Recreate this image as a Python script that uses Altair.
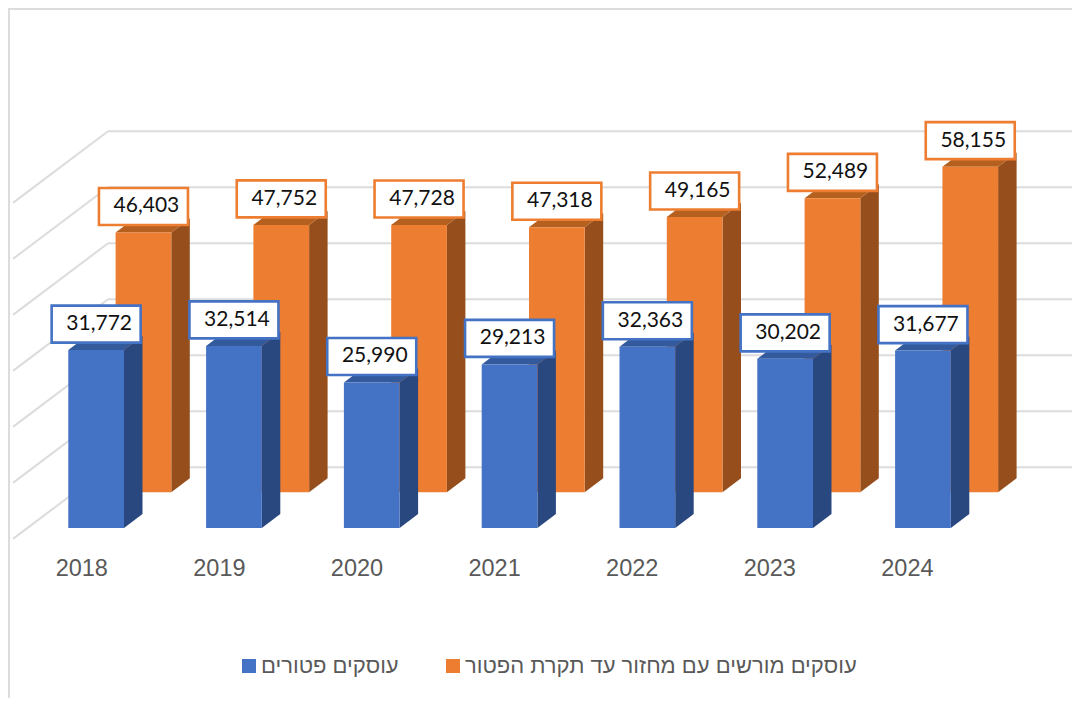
import altair as alt
import pandas as pd

years = ["2018", "2019", "2020", "2021", "2022", "2023", "2024"]
exempt = [31772, 32514, 25990, 29213, 32363, 30202, 31677]
licensed = [46403, 47752, 47728, 47318, 49165, 52489, 58155]
name_exempt = "עוסקים פטורים"
name_licensed = "עוסקים מורשים עם מחזור עד תקרת הפטור"
grid_values = [0, 10000, 20000, 30000, 40000, 50000, 60000]

BLUE, BLUE_SIDE, BLUE_TOP = "#4472C4", "#2A4880", "#335A9D"
ORANGE, ORANGE_SIDE, ORANGE_TOP = "#ED7D31", "#964F1C", "#B5601F"
GRID = "#DCDCDC"

# layout: x axis is in reference pixels, y axis in value units
U = 1 / 0.0056            # value units per pixel
X0, PITCH, BAR_W = 68.3, 137.8, 55.7
DX, DZ = 18.5, 14 * U     # bar depth
REAR_DX, REAR_DZ = 47.3, 35.7 * U
WALL_LEFT, WALL_RIGHT = 108, 1072
WALL_Z = 60.7 * U
SIDE_DX, SIDE_DZ = 95, 71.6 * U
TOP_V, BOTTOM_V = 520 * U, -170 * U

xs = alt.Scale(domain=[8, 1072], nice=False, zero=False)
ys = alt.Scale(domain=[BOTTOM_V, TOP_V], nice=False, zero=False)
X = lambda f="x": alt.X(f"{f}:Q", scale=xs, axis=None)
Y = lambda f="y": alt.Y(f"{f}:Q", scale=ys, axis=None)
X2 = alt.X2("x2:Q")
Y2 = alt.Y2("y2:Q")


def bars(values, name, off_x, off_z, front, side, top):
    rects, sides, tops = [], [], []
    for i, v in enumerate(values):
        l = X0 + i * PITCH + off_x
        r = l + BAR_W
        base = off_z
        t = v + off_z
        rects.append(dict(x=l, x2=r, y=t, y2=base, s=name))
        sides += [dict(b=i, x=r, y=t, y2=base), dict(b=i, x=r + DX, y=t + DZ, y2=base + DZ)]
        tops += [
            dict(b=i, x=l, y=t, y2=t),
            dict(b=i, x=l + DX, y=t + DZ, y2=t),
            dict(b=i, x=r, y=t + DZ, y2=t),
            dict(b=i, x=r + DX, y=t + DZ, y2=t + DZ),
        ]
    legend = alt.Legend(
        title=None, orient="none", direction="horizontal", legendX=230, legendY=647,
        symbolType="square", symbolSize=196, symbolStrokeWidth=0, labelFont="Liberation Sans",
        labelFontSize=22, labelColor="#595959", labelLimit=0, labelOffset=1, columnPadding=43,
    )
    color = alt.Color("s:N", scale=alt.Scale(domain=[name_exempt, name_licensed], range=[BLUE, ORANGE]), legend=legend)
    return [
        alt.Chart(pd.DataFrame(sides)).mark_area(color=side).encode(X(), Y(), Y2, detail="b:N"),
        alt.Chart(pd.DataFrame(tops)).mark_area(color=top).encode(X(), Y(), Y2, detail="b:N"),
        alt.Chart(pd.DataFrame(rects)).mark_rect().encode(X(), X2, Y(), Y2, color=color),
    ]


def labels(values, off_x, off_z, stroke):
    rows = []
    for i, v in enumerate(values):
        c = X0 + i * PITCH + off_x + BAR_W / 2
        m = v + off_z + 26 * U
        rows.append(dict(x=c - 44.5, x2=c + 44.5, y=m + 18.5 * U, y2=m - 18.5 * U, cx=c, cy=m, t=f"{v:,}"))
    df = pd.DataFrame(rows)
    return [
        alt.Chart(df).mark_rect(fill="white", stroke=stroke, strokeWidth=2.6).encode(X(), X2, Y(), Y2),
        alt.Chart(df).mark_text(font="Lato", fontSize=21, color="#111111", dx=3, baseline="middle", align="center")
        .encode(X("cx"), Y("cy"), text="t:N"),
    ]


grid_back = pd.DataFrame([dict(x=WALL_LEFT, x2=WALL_RIGHT, y=v + WALL_Z) for v in grid_values])
grid_side = pd.DataFrame([
    dict(x=WALL_LEFT, x2=WALL_LEFT - SIDE_DX, y=v + WALL_Z, y2=v + WALL_Z - SIDE_DZ) for v in grid_values
])
frame_left = pd.DataFrame([dict(x=9, y=BOTTOM_V, y2=TOP_V)])
frame_top = pd.DataFrame([dict(x=9, x2=1072, y=TOP_V - U)])
year_df = pd.DataFrame([dict(x=X0 + 13.5 + i * (PITCH - 0.2), y=-(568.5 - 528) * U, t=y) for i, y in enumerate(years)])

layers = [
    alt.Chart(frame_left).mark_rule(color=GRID, strokeWidth=2).encode(X(), Y(), Y2),
    alt.Chart(frame_top).mark_rule(color=GRID, strokeWidth=2).encode(X(), X2, Y()),
    alt.Chart(grid_back).mark_rule(color=GRID, strokeWidth=2).encode(X(), X2, Y()),
    alt.Chart(grid_side).mark_rule(color=GRID, strokeWidth=2).encode(X(), X2, Y(), Y2),
]
layers += bars(licensed, name_licensed, REAR_DX, REAR_DZ, ORANGE, ORANGE_SIDE, ORANGE_TOP)
layers += labels(licensed, REAR_DX, REAR_DZ, ORANGE)
layers += bars(exempt, name_exempt, 0, 0, BLUE, BLUE_SIDE, BLUE_TOP)
layers += labels(exempt, 0, 0, BLUE)
layers.append(
    alt.Chart(year_df).mark_text(font="Liberation Sans", fontSize=23.5, color="#595959", baseline="middle", align="center")
    .encode(X(), Y(), text="t:N")
)

chart = alt.layer(*layers).properties(
    width=1064, height=690, padding=0, autosize=alt.AutoSizeParams(type="none"), background="white"
).configure_view(stroke=None)

chart.save("out.html", embed_options={"renderer": "svg", "actions": False})
